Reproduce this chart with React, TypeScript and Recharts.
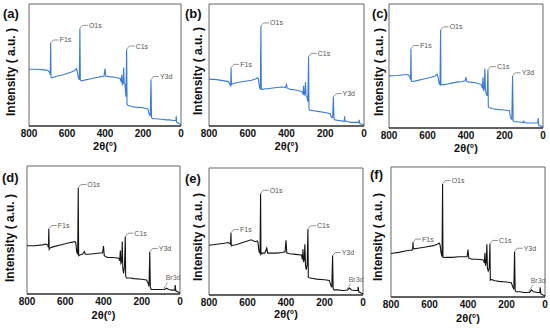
import React from "react";
import { LineChart, Line, XAxis, YAxis, ReferenceArea, ReferenceLine, ReferenceDot } from "recharts";

// binding energy grid shared by all six survey spectra
const energy = [
  800, 760, 720, 700, 692, 688, 686, 684, 680, 660, 620, 580, 560, 550, 545, 540, 535, 532, 530, 525,
  510, 500, 495, 480, 450, 420, 405, 400, 396, 380, 350, 320, 315, 312, 309, 305, 302, 299, 295, 290,
  286, 284, 280, 260, 240, 200, 175, 168, 162, 158, 155, 150, 130, 110, 102, 100, 98, 80, 70, 60,
  40, 30, 27, 25, 22, 10, 0,
];

const intensityA = [
  46.5, 46.5, 46, 45.5, 44, 42, 68, 40, 39.5, 40.5, 42, 44, 45.5, 47, 44, 39.5, 38, 80, 38, 37,
  37.5, 38, 38, 38.5, 39.5, 40.5, 41, 47, 41, 40.5, 40, 39, 36, 42, 34, 35, 48, 35, 34, 24,
  63, 18, 17, 16, 15.5, 15, 14, 10, 8, 38, 7, 6, 6, 5.5, 5.5, 5.5, 5.5, 5, 5, 5,
  4.5, 4.5, 4.5, 8, 3, 2, 1,
];
const intensityB = [
  38.4, 38, 37, 36.4, 34, 33, 48, 34, 34.5, 35.5, 36.5, 37.5, 38.5, 39.5, 38.5, 32, 30, 82, 30, 30,
  30.5, 30.5, 30.5, 31, 31.5, 32, 31.5, 34, 31, 30, 29.5, 28, 26, 33, 25, 27, 36, 25, 24, 20,
  57, 14, 13, 12.5, 12, 11, 10, 7, 7, 24, 6, 5, 4.5, 4, 4, 8, 4, 3.5, 3, 3,
  3, 3, 3, 5, 2, 1.5, 1,
];
const intensityC = [
  42, 42.4, 43, 43, 41, 39, 64, 38, 37.5, 38, 39.5, 41, 42, 43.5, 41, 36, 35, 79, 35, 35,
  35, 35.5, 35.5, 36, 37, 37.5, 38, 41, 37.5, 37, 36.5, 35, 32, 41, 30, 32, 48, 30, 28, 26,
  47, 17, 16.5, 15.5, 15, 14.5, 14, 8, 7, 42, 6, 5, 5, 4.5, 4.5, 6, 4.5, 4, 4, 4,
  4, 4, 4, 8, 2, 1.5, 1,
];
const intensityD = [
  37.7, 37.7, 38.4, 39, 38.2, 36.4, 51, 35, 36, 37, 38.5, 40, 40.5, 41, 40, 33, 31, 83, 30, 30.5,
  31, 33, 31, 31, 31.5, 32, 32, 37.5, 30, 28.5, 28.5, 28, 26, 34, 24, 25, 41, 20, 16, 22,
  45, 14, 12.5, 12.5, 12, 11.5, 11, 9, 6, 33, 5, 3.5, 3.5, 3.5, 3.5, 3.5, 3.5, 3.5, 4.5, 3.5,
  3, 3, 3, 7, 2.5, 1.5, 1,
];
const intensityE = [
  39.2, 40, 40.8, 41.3, 40.5, 40, 49, 38.7, 39, 39.5, 41.5, 43.5, 42, 42.5, 41, 34, 33, 80, 32, 33,
  33, 37, 33, 33, 33, 33.5, 34, 43, 33, 32.5, 32, 31.5, 28, 36, 26, 28, 40, 24, 20, 24,
  52, 14, 13.5, 13, 12.5, 12, 11.5, 8, 6, 31, 5, 4, 4, 3.5, 3.5, 3.5, 3.5, 4, 5.5, 4,
  3.5, 3.5, 3.5, 6.5, 2.5, 1.5, 1,
];
const intensityF = [
  33.5, 34.3, 35.6, 36, 36, 36.6, 42, 37.6, 37, 37.5, 38.5, 39.5, 40.5, 41.5, 40, 34, 31, 87, 30.5, 30.4,
  30.5, 30.5, 30.5, 30.5, 31, 31, 31, 36.5, 30, 29, 29, 28.5, 26, 34, 24, 27, 40.5, 22, 20, 22,
  41, 13, 13.5, 12.5, 12, 11.5, 11, 8, 6, 35, 5, 4, 4, 3.5, 3.5, 3.5, 3.5, 3.5, 5.5, 4,
  3.5, 3.5, 3.5, 7.5, 2.5, 1.5, 1,
];

const xTicks = [0, 200, 400, 600, 800];
const peakLabels = [
  { name: "F1s", e: 686 },
  { name: "O1s", e: 532 },
  { name: "C1s", e: 286 },
  { name: "Y3d", e: 158 },
];

const BLUE = "#3a7bd8";
const BLACK = "#151515";
const FONT = "Arial, 'Liberation Sans', sans-serif";

type PanelProps = {
  letter: string;
  values: number[];
  color: string;
  br?: boolean;
  box: { l: number; t: number; w: number; h: number };
  xLabelY: number;
  yLabel: { x: number; y: number };
  letterPos: { x: number; y: number };
};

const PAD = 12;

const Panel = ({ letter, values, color, br, box, xLabelY, yLabel, letterPos }: PanelProps) => {
  const data = energy.map((e, i) => ({ e, v: values[i] }));
  const topOf = (e: number) => values[energy.indexOf(e)];

  return (
    <>
      <div style={{ position: "absolute", left: box.l - PAD, top: box.t - PAD }}>
        <LineChart
          width={box.w + PAD * 2}
          height={box.h + PAD + 30}
          data={data}
          margin={{ top: PAD, right: PAD, left: PAD, bottom: 0 }}
        >
          <XAxis
            dataKey="e"
            type="number"
            domain={[0, 800]}
            reversed
            ticks={xTicks}
            interval={0}
            height={30}
            tickLine={false}
            tickSize={2}
            tickMargin={2}
            axisLine={{ stroke: "#111", strokeWidth: 1.2 }}
            tick={{ fontSize: 10, fontWeight: "bold", fill: "#111", fontFamily: FONT }}
          />
          <YAxis type="number" domain={[0, 100]} hide />
          <ReferenceArea x1={800} x2={0} y1={0} y2={100} fill="none" stroke="#666" strokeWidth={1} />
          <Line
            dataKey="v"
            stroke={color}
            strokeWidth={1.1}
            dot={false}
            isAnimationActive={false}
            type="linear"
          />
          {peakLabels.map((p) => {
            const t = topOf(p.e);
            const mid = { x: p.e - 14, y: t + 2.5 };
            const end = { x: p.e - 42, y: t + 2.5 };
            return (
              <React.Fragment key={p.name}>
                <ReferenceLine segment={[{ x: p.e, y: t }, mid]} stroke="#777" strokeWidth={0.8} />
                <ReferenceLine segment={[mid, end]} stroke="#777" strokeWidth={0.8} />
                <ReferenceDot
                  x={end.x}
                  y={end.y}
                  r={0}
                  fill="none"
                  stroke="none"
                  label={{ value: p.name, position: "right", offset: 1, fontSize: 7, fill: "#555", fontFamily: FONT }}
                />
              </React.Fragment>
            );
          })}
          {br && (
            <>
              <ReferenceLine segment={[{ x: 90, y: 3 }, { x: 64, y: 9 }]} stroke="#888" strokeWidth={0.8} />
              <ReferenceDot
                x={36}
                y={12.5}
                r={0}
                fill="none"
                stroke="none"
                ifOverflow="visible"
                label={{ value: "Br3d", position: "center", fontSize: 7, fill: "#666", fontFamily: FONT }}
              />
            </>
          )}
        </LineChart>
      </div>
      <div
        style={{
          position: "absolute",
          left: box.l + box.w / 2,
          top: xLabelY,
          transform: "translate(-50%, -50%)",
          fontSize: 11,
          lineHeight: 1,
          fontWeight: "bold",
          whiteSpace: "nowrap",
        }}
      >
        2θ(°)
      </div>
      <div
        style={{
          position: "absolute",
          left: yLabel.x,
          top: yLabel.y,
          transform: "translate(-50%, -50%) rotate(-90deg)",
          fontSize: 12,
          lineHeight: 1,
          fontWeight: "bold",
          whiteSpace: "nowrap",
        }}
      >
        Intensity ( a.u. )
      </div>
      <div
        style={{
          position: "absolute",
          left: letterPos.x,
          top: letterPos.y,
          transform: "translateY(-50%)",
          fontSize: 13,
          lineHeight: 1,
          fontWeight: "bold",
        }}
      >
        {letter}
      </div>
    </>
  );
};

export default function App() {
  return (
    <div
      style={{
        position: "absolute",
        left: 0,
        top: 0,
        width: 550,
        height: 328,
        background: "#fff",
        fontFamily: FONT,
        color: "#111",
        overflow: "hidden",
      }}
    >
      <Panel letter="(a)" values={intensityA} color={BLUE}
        box={{ l: 29, t: 4, w: 152, h: 122 }} xLabelY={146} yLabel={{ x: 11, y: 72 }} letterPos={{ x: 3, y: 13 }} />
      <Panel letter="(b)" values={intensityB} color={BLUE}
        box={{ l: 209, t: 4, w: 155, h: 122 }} xLabelY={146} yLabel={{ x: 198, y: 71 }} letterPos={{ x: 185, y: 13 }} />
      <Panel letter="(c)" values={intensityC} color={BLUE}
        box={{ l: 389, t: 4, w: 154, h: 124 }} xLabelY={148} yLabel={{ x: 379, y: 72 }} letterPos={{ x: 372, y: 13 }} />
      <Panel letter="(d)" values={intensityD} color={BLACK} br
        box={{ l: 27, t: 166, w: 153, h: 128 }} xLabelY={315} yLabel={{ x: 10, y: 238 }} letterPos={{ x: 2, y: 177 }} />
      <Panel letter="(e)" values={intensityE} color={BLACK} br
        box={{ l: 209, t: 168, w: 154, h: 127 }} xLabelY={314} yLabel={{ x: 198, y: 237 }} letterPos={{ x: 185, y: 178 }} />
      <Panel letter="(f)" values={intensityF} color={BLACK} br
        box={{ l: 391, t: 167, w: 154, h: 130 }} xLabelY={318} yLabel={{ x: 378, y: 237 }} letterPos={{ x: 370, y: 174 }} />
    </div>
  );
}
